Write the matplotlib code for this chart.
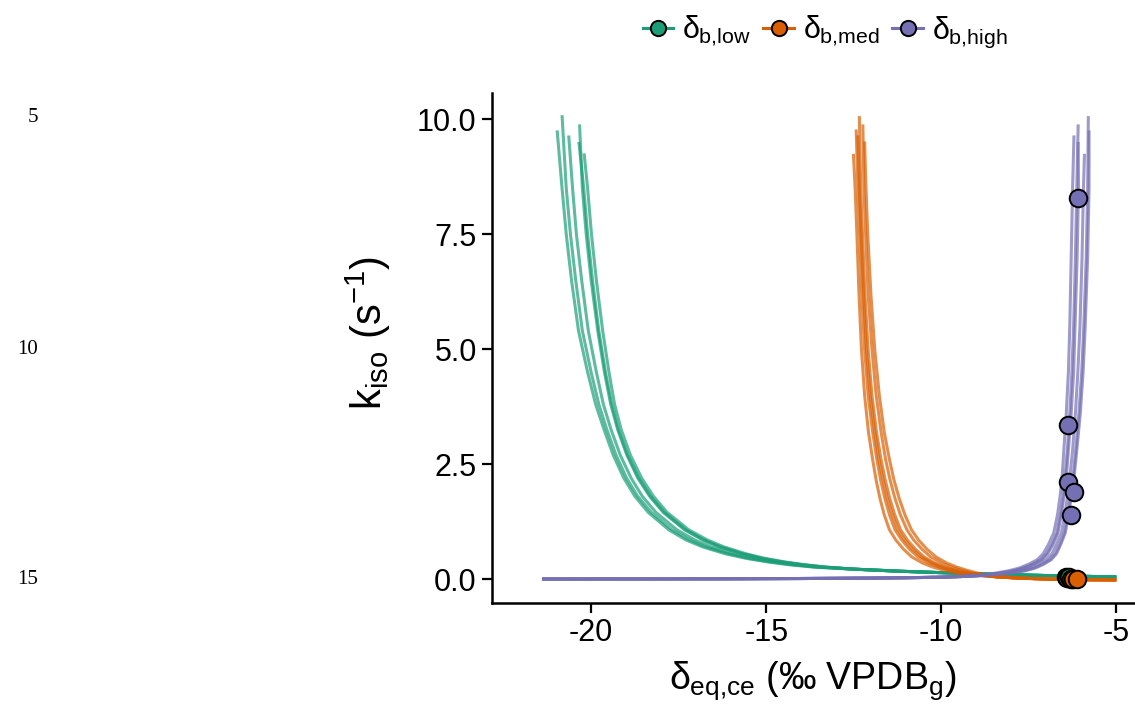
"""Isotope rate curves k_iso against delta_eq,ce for three delta_b levels."""

import matplotlib

matplotlib.use("Agg")
import matplotlib.pyplot as plt
from matplotlib.lines import Line2D

plt.rcParams["font.family"] = ["Liberation Sans", "DejaVu Sans"]
plt.rcParams["mathtext.fontset"] = "custom"
plt.rcParams["mathtext.rm"] = "Liberation Sans"
plt.rcParams["mathtext.it"] = "Liberation Sans"

# ---- data ------------------------------------------------------------------
groups = ["low", "med", "high"]
colors = {"low": "#1B9E77", "med": "#D95F02", "high": "#7570B3"}

# green (delta_b,low): top point of each curve, x at shared k levels, shared tail
low_top_x = [-20.97, -20.83, -20.64, -20.33, -20.35, -20.20]
low_top_k = [9.76, 10.09, 9.65, 9.89, 9.51, 9.26]
low_k_levels = [8.5, 7.5, 6.5, 5.4, 4.5, 3.8, 3.25, 2.7, 2.2, 1.8,
                1.45, 1.07, 0.85, 0.7, 0.55, 0.45, 0.37, 0.31, 0.26]
low_x = [
    [-20.83, -20.71, -20.56, -20.36, -20.10, -19.87, -19.63, -19.37, -19.07, -18.75,
     -18.37, -17.78, -17.29, -16.82, -16.17, -15.58, -14.94, -14.33, -13.65],
    [-20.71, -20.59, -20.44, -20.25, -20.00, -19.78, -19.55, -19.29, -18.99, -18.67,
     -18.28, -17.69, -17.19, -16.72, -16.07, -15.49, -14.86, -14.26, -13.59],
    [-20.53, -20.42, -20.27, -20.08, -19.85, -19.65, -19.43, -19.17, -18.86, -18.54,
     -18.15, -17.55, -17.04, -16.57, -15.93, -15.36, -14.74, -14.15, -13.50],
    [-20.25, -20.14, -20.00, -19.81, -19.62, -19.44, -19.24, -18.98, -18.67, -18.33,
     -17.94, -17.33, -16.81, -16.34, -15.70, -15.15, -14.55, -13.98, -13.36],
    [-20.21, -20.10, -19.96, -19.78, -19.59, -19.41, -19.22, -18.96, -18.64, -18.30,
     -17.91, -17.30, -16.78, -16.31, -15.67, -15.12, -14.53, -13.95, -13.34],
    [-20.10, -19.99, -19.85, -19.67, -19.49, -19.33, -19.14, -18.88, -18.56, -18.22,
     -17.83, -17.21, -16.68, -16.21, -15.58, -15.04, -14.45, -13.89, -13.28],
]
low_tail_x = [-12.5, -11.2, -9.86, -8.34, -6.69, -5.0]
low_tail_k = [0.215, 0.17, 0.135, 0.10, 0.07, 0.045]

# orange (delta_b,med)
med_top_x = [-12.51, -12.43, -12.38, -12.34, -12.24, -12.19]
med_top_k = [9.25, 9.78, 9.65, 10.07, 9.89, 9.52]
med_k_levels = [8.5, 7.5, 6.2, 5.0, 4.0, 3.2, 2.6, 2.15, 1.75, 1.4,
                1.07, 0.85, 0.65, 0.48, 0.35, 0.26, 0.2, 0.14, 0.09]
med_x = [
    [-12.46, -12.41, -12.35, -12.28, -12.19, -12.08, -11.96, -11.86, -11.75, -11.63,
     -11.48, -11.30, -11.08, -10.84, -10.54, -10.24, -9.97, -9.63, -9.20],
    [-12.38, -12.33, -12.27, -12.19, -12.09, -11.96, -11.84, -11.73, -11.61, -11.48,
     -11.32, -11.13, -10.91, -10.66, -10.36, -10.07, -9.81, -9.48, -9.08],
    [-12.34, -12.29, -12.22, -12.14, -12.03, -11.90, -11.78, -11.66, -11.54, -11.40,
     -11.24, -11.05, -10.82, -10.57, -10.27, -9.98, -9.72, -9.40, -9.01],
    [-12.30, -12.25, -12.18, -12.09, -11.98, -11.85, -11.72, -11.60, -11.47, -11.33,
     -11.16, -10.97, -10.74, -10.49, -10.19, -9.90, -9.64, -9.33, -8.95],
    [-12.21, -12.16, -12.09, -11.98, -11.86, -11.72, -11.59, -11.46, -11.32, -11.17,
     -10.98, -10.79, -10.55, -10.30, -10.00, -9.71, -9.46, -9.16, -8.81],
    [-12.15, -12.10, -12.01, -11.90, -11.77, -11.63, -11.48, -11.35, -11.20, -11.04,
     -10.85, -10.65, -10.41, -10.15, -9.85, -9.56, -9.31, -9.03, -8.70],
]
med_tail_x = [-8.45, -7.8, -7.0, -6.0, -5.0]
med_tail_k = [0.05, 0.02, 0.0, -0.015, -0.02]

# purple (delta_b,high)
high_top_x = [-6.21, -6.09, -6.09, -5.91, -5.80, -5.78]
high_top_k = [9.65, 9.89, 9.51, 9.25, 10.07, 9.76]
high_k_levels = [8.5, 7.0, 5.5, 4.5, 3.6, 2.8, 2.2, 1.78, 1.4, 1.0,
                 0.75, 0.55, 0.42, 0.32, 0.24, 0.18, 0.13]
high_x = [
    [-6.25, -6.29, -6.33, -6.37, -6.43, -6.50, -6.55, -6.61, -6.68, -6.79,
     -6.94, -7.09, -7.26, -7.51, -7.77, -8.07, -8.45],
    [-6.13, -6.17, -6.22, -6.27, -6.33, -6.40, -6.47, -6.53, -6.60, -6.70,
     -6.85, -7.00, -7.16, -7.40, -7.66, -7.95, -8.33],
    [-6.08, -6.12, -6.18, -6.22, -6.29, -6.37, -6.43, -6.50, -6.57, -6.67,
     -6.81, -6.96, -7.12, -7.36, -7.61, -7.90, -8.29],
    [-5.94, -5.98, -6.04, -6.10, -6.17, -6.25, -6.33, -6.40, -6.47, -6.57,
     -6.71, -6.84, -7.00, -7.23, -7.47, -7.76, -8.15],
    [-5.82, -5.86, -5.93, -5.99, -6.07, -6.16, -6.24, -6.32, -6.39, -6.49,
     -6.62, -6.75, -6.90, -7.12, -7.36, -7.64, -8.04],
    [-5.78, -5.82, -5.89, -5.95, -6.03, -6.13, -6.21, -6.29, -6.36, -6.46,
     -6.59, -6.71, -6.86, -7.08, -7.31, -7.59, -8.00],
]
high_tail_x = [-8.8, -9.4, -10.0, -11.0, -12.0, -14.0, -16.0, -18.5, -21.4]
high_tail_k = [0.08, 0.055, 0.04, 0.028, 0.02, 0.011, 0.005, 0.002, 0.0]

# observed points
low_pts_x = [-6.45, -6.41, -6.36]
low_pts_k = [0.04, 0.03, 0.04]
med_pts_x = [-6.30, -6.24, -6.13]
med_pts_k = [0.0, 0.0, 0.0]
high_pts_x = [-6.09, -6.38, -6.38, -6.21, -6.30]
high_pts_k = [8.28, 3.35, 2.11, 1.89, 1.39]

curves = {
    "low": (low_top_x, low_top_k, low_k_levels, low_x, low_tail_x, low_tail_k),
    "med": (med_top_x, med_top_k, med_k_levels, med_x, med_tail_x, med_tail_k),
    "high": (high_top_x, high_top_k, high_k_levels, high_x, high_tail_x, high_tail_k),
}
points = {
    "low": (low_pts_x, low_pts_k),
    "med": (med_pts_x, med_pts_k),
    "high": (high_pts_x, high_pts_k),
}
legend_labels = {
    "low": r"$\delta_{\mathrm{b{,}low}}$",
    "med": r"$\delta_{\mathrm{b{,}med}}$",
    "high": r"$\delta_{\mathrm{b{,}high}}$",
}

# ---- figure ---------------------------------------------------------------
fig = plt.figure(figsize=(11.35, 7.11), dpi=100)
ax = fig.add_axes([0.4335, 0.152, 0.5655, 0.717])

for g in groups:
    top_x, top_k, k_levels, xs, tail_x, tail_k = curves[g]
    for tx, tk, row in zip(top_x, top_k, xs):
        line_x = [tx] + list(row) + list(tail_x)
        line_k = [tk] + list(k_levels) + list(tail_k)
        ax.plot(line_x, line_k, color=colors[g], lw=2.2, alpha=0.7,
                solid_capstyle="butt", solid_joinstyle="round", zorder=2)

for g in groups:
    px, pk = points[g]
    ax.scatter(px, pk, s=160, color=colors[g], edgecolors="black",
               linewidths=1.4, zorder=4)

ax.set_xlim(-22.83, -4.5)
ax.set_ylim(-0.52, 10.57)
ax.set_xticks([-20, -15, -10, -5])
ax.set_xticklabels(["-20", "-15", "-10", "-5"])
ax.set_yticks([0, 2.5, 5, 7.5, 10])
ax.set_yticklabels(["0.0", "2.5", "5.0", "7.5", "10.0"])
ax.tick_params(axis="both", labelsize=22, length=7, width=1.6,
               color="black", labelcolor="black", pad=4)
for side in ["top", "right"]:
    ax.spines[side].set_visible(False)
for side in ["left", "bottom"]:
    ax.spines[side].set_linewidth(1.8)

ax.set_xlabel(r"$\delta_{\mathrm{eq{,}ce}}$ (‰ VPDB$_{\mathrm{g}}$)",
              fontsize=27, labelpad=8)
ax.set_ylabel(r"k$_{\mathrm{iso}}$ (s$^{-1}$)", fontsize=30)
ax.yaxis.set_label_coords(-0.155, 0.53)

handles = [
    Line2D([0], [0], color=colors[g], lw=2.2, marker="o", markersize=11,
           markerfacecolor=colors[g], markeredgecolor="black",
           markeredgewidth=1.4)
    for g in groups
]
fig.legend(handles, [legend_labels[g] for g in groups], loc="center",
           bbox_to_anchor=(0.727, 0.955), ncol=3, frameon=False,
           fontsize=22, handlelength=1.0, handletextpad=0.3,
           columnspacing=0.4)

# line numbers in the left margin
for num, ypix in [("5", 118), ("10", 349), ("15", 580)]:
    fig.text(38 / 1135, 1 - ypix / 711, num, ha="right", va="center",
             fontsize=15, family=["Liberation Serif", "DejaVu Serif"])

fig.savefig("out.png", dpi=100)
